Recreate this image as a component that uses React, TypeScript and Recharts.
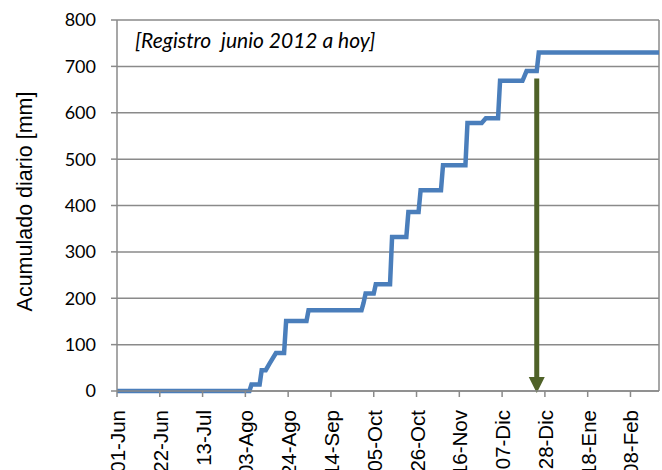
import { LineChart, Line, XAxis, YAxis, CartesianGrid, ReferenceLine } from "recharts";

// days counted from 01-Jun-2012, cumulative rain in mm
const days = [0, 65, 66, 70, 71, 73, 75, 78, 82, 83, 93, 94, 120, 121, 122, 126, 127, 134, 135, 142, 143, 148, 149, 159, 160, 171, 172, 179, 181, 187, 188, 199, 201, 206, 207, 266];
const accum = [0, 0, 14, 14, 45, 45, 60, 82, 82, 151, 151, 174, 174, 190, 210, 210, 230, 230, 332, 332, 386, 386, 433, 433, 487, 487, 578, 578, 588, 588, 669, 669, 690, 690, 730, 730];

const tickDays = [0, 21, 42, 63, 84, 105, 126, 147, 168, 189, 210, 231, 252];
const tickLabels = ["01-Jun", "22-Jun", "13-Jul", "03-Ago", "24-Ago", "14-Sep", "05-Oct", "26-Oct", "16-Nov", "07-Dic", "28-Dic", "18-Ene", "08-Feb"];
const yTicks = [0, 100, 200, 300, 400, 500, 600, 700, 800];

const arrowDay = 206;
const arrowTop = 674;

const rows = days.map((d, i) => ({ day: d, mm: accum[i] }));

const grey = "#8a8a8a";

const XTick = ({ x, y, payload }: any) => {
  const i = tickDays.indexOf(payload.value);
  return (
    <text x={x} y={y} transform={`rotate(-90, ${x}, ${y})`} textAnchor="end" dx={-11} dy={8}
      style={{ fontFamily: "'Liberation Sans', Arial", fontSize: 20.5, fill: "#000" }}>
      {tickLabels[i]}
    </text>
  );
};

const Arrow = (p: any) => {
  const { x1, y1, x2, y2 } = p;
  const tip = y2 + 2;
  return (
    <g>
      <line x1={x1} y1={y1} x2={x2} y2={tip - 14} stroke="#4f6228" strokeWidth={5} />
      <polygon points={`${x2 - 8},${tip - 16} ${x2 + 8},${tip - 16} ${x2},${tip}`} fill="#4f6228" />
    </g>
  );
};

const YLabel = ({ viewBox }: any) => {
  const cy = viewBox.y + viewBox.height / 2 - 4;
  return (
    <text x={32} y={cy} transform={`rotate(-90, 32, ${cy})`} textAnchor="middle"
      style={{ fontFamily: "'Liberation Sans', Arial", fontSize: 21.5, fill: "#000" }}>
      Acumulado diario [mm]
    </text>
  );
};

export default function App() {
  return (
    <div style={{ position: "absolute", left: 0, top: 0, width: 662, height: 470, background: "#fff", overflow: "hidden" }}>
      <LineChart width={662} height={470} data={rows} margin={{ top: 20, right: 3, bottom: 0, left: 0 }}>
        <CartesianGrid vertical={false} stroke={grey} strokeWidth={1.5} />
        <XAxis dataKey="day" type="number" domain={[0, 266]} ticks={tickDays} interval={0}
          height={79} tickSize={6} tick={<XTick />} axisLine={{ stroke: grey, strokeWidth: 1.5 }}
          tickLine={{ stroke: grey, strokeWidth: 1.5 }} />
        <YAxis domain={[0, 800]} ticks={yTicks} width={117} tickSize={6} tickMargin={15}
          axisLine={{ stroke: grey, strokeWidth: 1.5 }} tickLine={{ stroke: grey, strokeWidth: 1.5 }}
          tick={{ fontFamily: "Lato", fontSize: 18, fill: "#000" }}
          label={{ content: <YLabel /> } as any} />
        <ReferenceLine x={266} stroke={grey} strokeWidth={1.5} />
        <Line dataKey="mm" type="linear" stroke="#4a7ebb" strokeWidth={4.5} dot={false}
          isAnimationActive={false} />
        <ReferenceLine segment={[{ x: arrowDay, y: arrowTop }, { x: arrowDay, y: 0 }]} shape={<Arrow />} />
      </LineChart>
      <div style={{ position: "absolute", left: 135, top: 27, fontFamily: "Lato", fontStyle: "italic", fontSize: 21, color: "#000", whiteSpace: "pre" }}>
        [Registro  junio 2012 a hoy]
      </div>
    </div>
  );
}
